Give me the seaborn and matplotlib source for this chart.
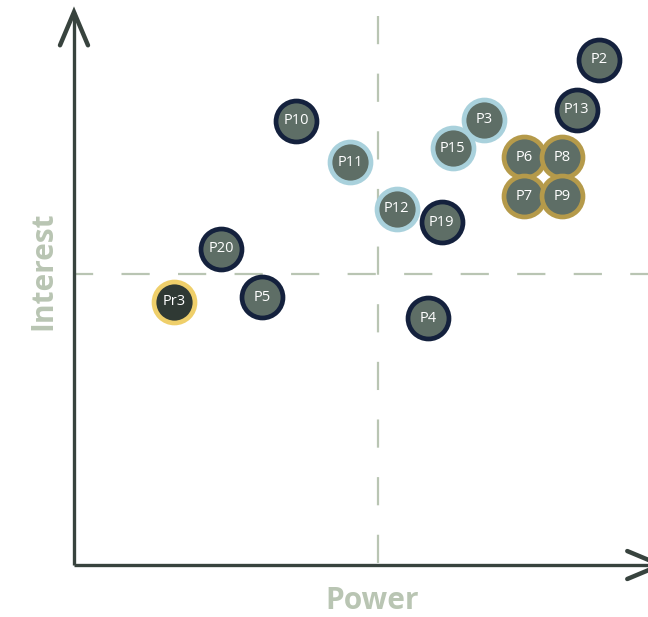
import matplotlib
matplotlib.use("Agg")
import matplotlib.pyplot as plt
import seaborn as sns
import pandas as pd

# Stakeholder map data (power vs interest, 0-10 scale)
names = ["P2", "P13", "P3", "P15", "P6", "P8", "P7", "P9",
         "P10", "P11", "P12", "P19", "P20", "Pr3", "P5", "P4"]
power = [8.63, 8.27, 6.74, 6.23, 7.40, 8.03, 7.40, 8.03,
         3.65, 4.54, 5.31, 6.05, 2.42, 1.64, 3.09, 5.82]
interest = [8.68, 7.82, 7.65, 7.16, 7.01, 7.01, 6.34, 6.34,
            7.63, 6.92, 6.12, 5.89, 5.43, 4.52, 4.60, 4.24]
groups = ["key", "key", "keep", "keep", "core", "core", "core", "core",
          "key", "keep", "keep", "key", "key", "project", "key", "key"]

group_edge = {"key": "#14213d", "keep": "#a9d1dc", "core": "#b59a4a", "project": "#efcf6a"}
group_fill = {"key": "#5e6e66", "keep": "#5e6e66", "core": "#5e6e66", "project": "#2f3934"}

df = pd.DataFrame({"name": names, "power": power, "interest": interest, "group": groups})

sns.set_theme(style="white")
plt.rcParams["font.family"] = ["Open Sans", "DejaVu Sans"]
plt.rcParams["lines.scale_dashes"] = False

fig = plt.figure(figsize=(6.48, 6.17), dpi=100)
ax = fig.add_axes([0, 0, 1, 1])
ax.set_xlim(-1.217, 9.441)
ax.set_ylim(-0.893, 9.708)
ax.axis("off")

axis_col = "#38433e"
guide_col = "#b9c5b3"

# quadrant guides
ax.plot([0, 9.5], [5, 5], color=guide_col, lw=1.6,
        linestyle=(6.5, (20.3, 20.4)), zorder=1)
ax.plot([5, 5], [9.43, 0.03], color=guide_col, lw=1.6,
        linestyle=(0, (20.3, 21.2)), zorder=1)

# axes with open arrowheads
ax.plot([0, 0], [0, 9.5], color=axis_col, lw=2.4, solid_capstyle="butt", zorder=2)
ax.plot([-0.23, 0, 0.23], [8.93, 9.5, 8.93], color=axis_col, lw=3.2,
        solid_joinstyle="miter", zorder=2)
ax.plot([0, 9.65], [0, 0], color=axis_col, lw=2.4, solid_capstyle="butt", zorder=2)
ax.plot([9.10, 9.65, 9.10], [0.24, 0, -0.24], color=axis_col, lw=3.2,
        solid_joinstyle="miter", zorder=2)

for g, sub in df.groupby("group"):
    sns.scatterplot(data=sub, x="power", y="interest", ax=ax, s=870,
                    color=group_fill[g], edgecolor=group_edge[g], linewidth=3.4,
                    legend=False, zorder=3)

for n, x, y in zip(names, power, interest):
    ax.text(x, y, n, color="white", fontsize=10.5, ha="center", va="center", zorder=4)

ax.text(5 - 0.1, -0.61, "Power", color=guide_col, fontsize=21.5, fontweight="bold",
        ha="center", va="center")
ax.text(-0.51, 5.06, "Interest", color=guide_col, fontsize=21.5, fontweight="bold",
        ha="center", va="center", rotation=90)

fig.savefig("out.png", dpi=100)
